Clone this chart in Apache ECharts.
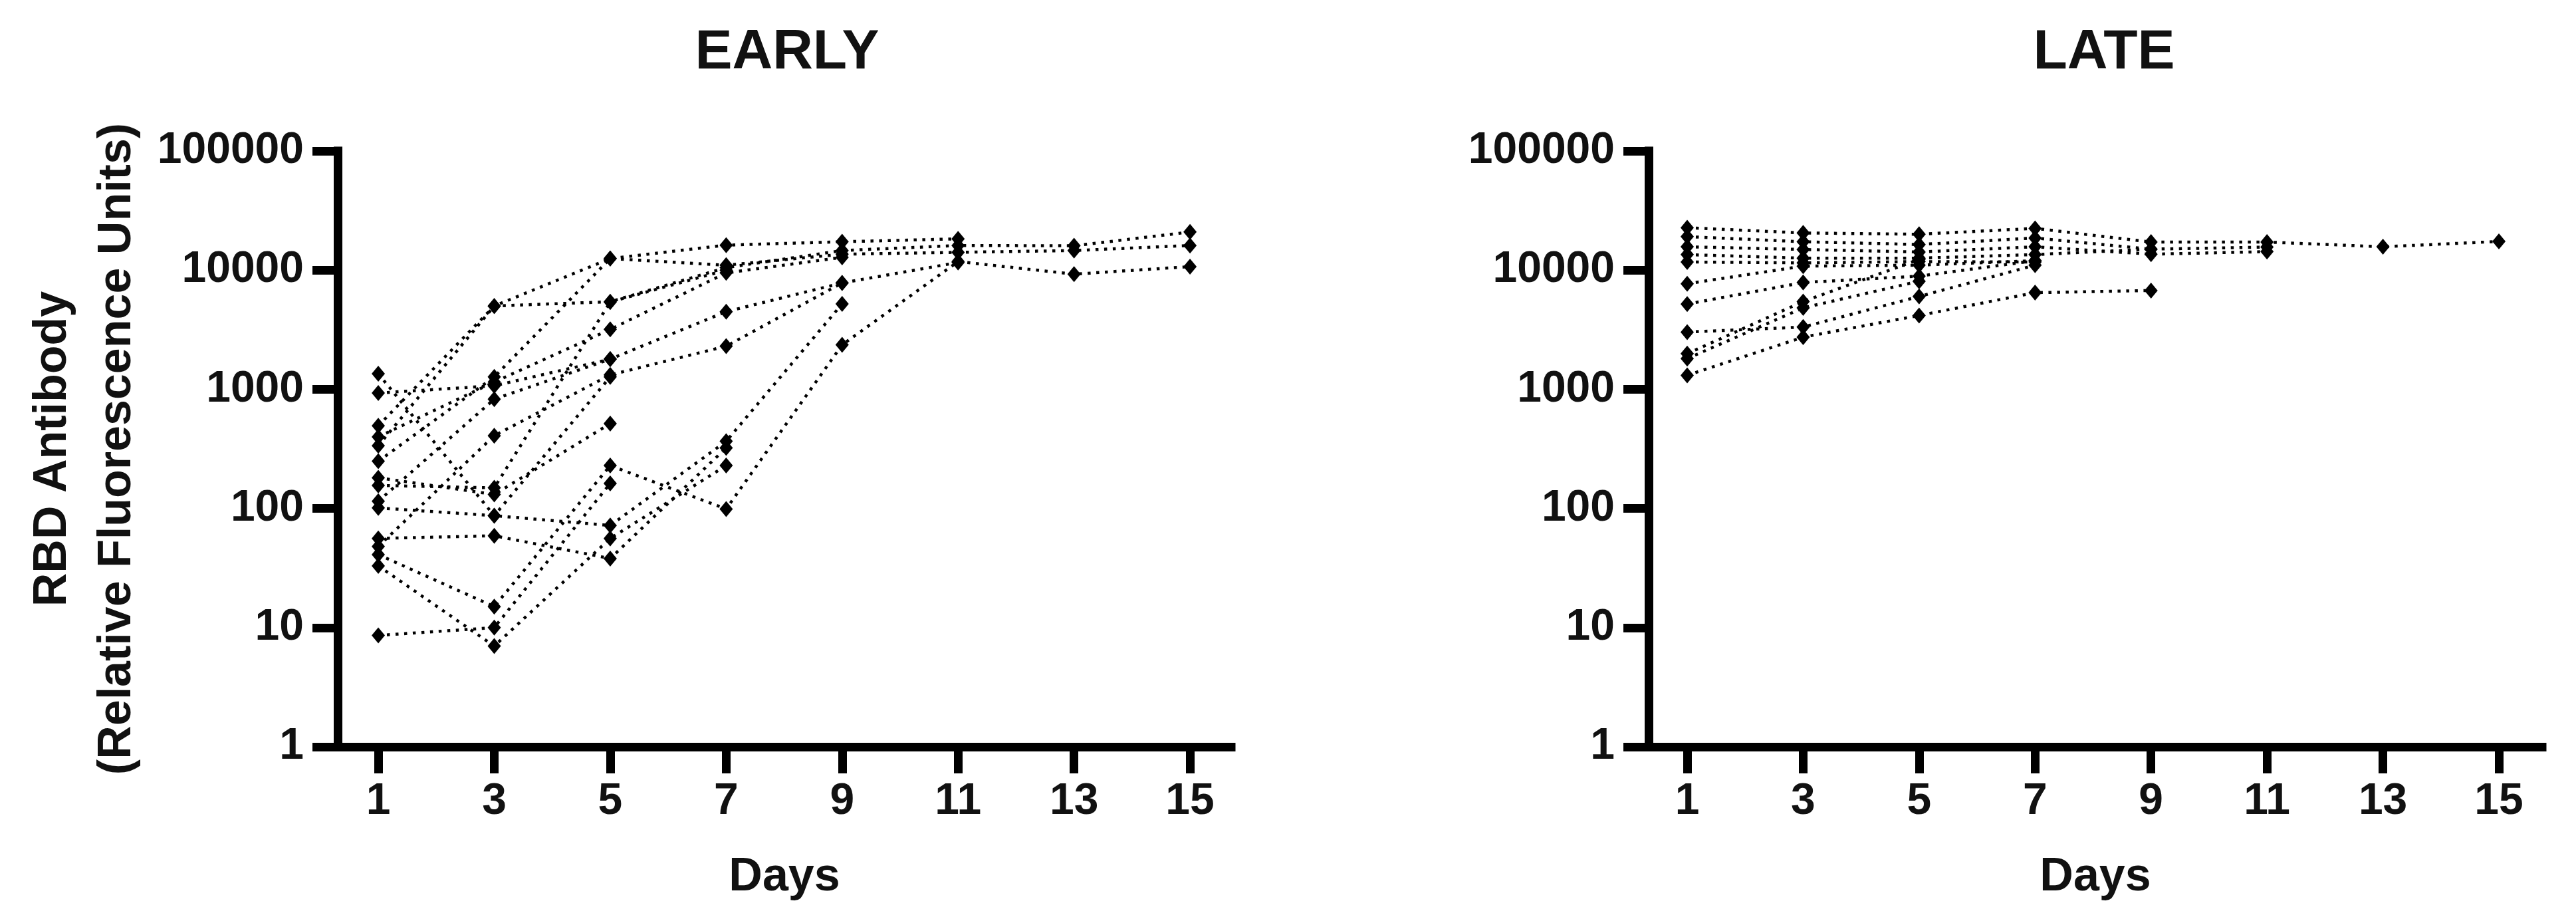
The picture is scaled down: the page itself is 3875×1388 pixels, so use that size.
<!DOCTYPE html>
<html>
<head>
<meta charset="utf-8">
<title>RBD Antibody - Early / Late</title>
<script src="https://cdn.jsdelivr.net/npm/echarts@6/dist/echarts.min.js"></script>
<style>
  html, body { margin: 0; padding: 0; background: #fff; }
  #chart { width: 3875px; height: 1388px; }
</style>
</head>
<body>
<div id="chart"></div>
<script>
// sampling days (x) and tick labels
const days = [1, 3, 5, 7, 9, 11, 13, 15]
const dayTicks = [1, 3, 5, 7, 9, 11, 13, 15]
const yTicks = [1, 10, 100, 1000, 10000, 100000]

// EARLY patients, one array per patient (values on days 1,3,5,...)
const early01 = [494, 5000, 12500, 16200, 17300, 18300]
const early02 = [336, 5000, 5430, 10500, 14600, 16100, 16000, 20900]
const early03 = [931, 1070, 1790, 4480, 7800]
const early04 = [249, 1270, 12500, 11000, 13600, 14100, 14600, 16100]
const early05 = [399, 1150, 3180, 9480, 12800]
const early06 = [48, 408, 1320, 2300, 7800, 11600]
const early07 = [1350, 87, 1270]
const early08 = [181, 131, 515]
const early09 = [156, 149, 5400, 10000]
const early10 = [115, 826, 1790]
const early11 = [101, 87, 72, 366, 5200]
const early12 = [56, 59, 38, 322]
const early13 = [41, 15, 229, 99, 2360, 11800, 9250, 10700]
const early14 = [33, 7, 56, 229]
const early15 = [8.6, 10, 162]

// LATE patients
const late01 = [22700, 20500, 20000, 22400, 17200, 17200, 15700, 17400]
const late02 = [19100, 17300, 16400, 18600, 15000, 15600]
const late03 = [15700, 14900, 14200, 15700, 13600, 14300]
const late04 = [13500, 12600, 12600, 13500, 15000]
const late05 = [11700, 11500, 11800, 11700]
const late06 = [7690, 10800, 11000, 12000]
const late07 = [5190, 7870, 8910, 12000]
const late08 = [3020, 3330, 6010, 11000]
const late09 = [1990, 5450, 12300]
const late10 = [1810, 4820, 8070]
const late11 = [1310, 2740, 4160, 6470, 6740]

const earlyList = [early01, early02, early03, early04, early05, early06, early07, early08,
  early09, early10, early11, early12, early13, early14, early15]
const lateList = [late01, late02, late03, late04, late05, late06, late07, late08,
  late09, late10, late11]

const font = "'Liberation Sans', Arial, Helvetica, sans-serif"
const ink = '#111'

function makeSeries(values, idx) {
  return {
    type: 'line',
    xAxisIndex: idx,
    yAxisIndex: idx,
    data: values.map((v, i) => [days[i], v]),
    symbol: 'diamond',
    symbolSize: [20, 24],
    itemStyle: { color: '#000' },
    lineStyle: { color: '#000', width: 4.5, type: [4.5, 8.5] },
    silent: true
  }
}

function makeXAxis(idx, min) {
  return {
    type: 'value',
    gridIndex: idx,
    min: min,
    max: min + 15.41,
    name: 'Days',
    nameLocation: 'middle',
    nameGap: 162,
    nameTextStyle: { fontFamily: font, fontSize: 70, fontWeight: 'bold', color: ink },
    axisLine: { show: true, onZero: false, lineStyle: { color: '#000', width: 13, cap: 'square' } },
    axisTick: { show: true, length: 40, customValues: dayTicks, lineStyle: { color: '#000', width: 13 } },
    axisLabel: { customValues: dayTicks, margin: 50, fontFamily: font, fontSize: 66, fontWeight: 'bold', color: ink },
    splitLine: { show: false }
  }
}

function makeYAxis(idx, withName) {
  const ax = {
    type: 'log',
    logBase: 10,
    gridIndex: idx,
    min: 1,
    max: 100000,
    axisLine: { show: true, onZero: false, lineStyle: { color: '#000', width: 13, cap: 'square' } },
    axisTick: { show: true, length: 38, lineStyle: { color: '#000', width: 13 } },
    axisLabel: {
      margin: 51,
      fontFamily: font,
      fontSize: 66,
      fontWeight: 'bold',
      color: ink,
      formatter: v => String(Math.round(v))
    },
    splitLine: { show: false }
  }
  if (withName) {
    ax.name = 'RBD Antibody\n(Relative Fluorescence Units)'
    ax.nameLocation = 'middle'
    ax.nameGap = 283
    ax.nameTextStyle = { fontFamily: font, fontSize: 70, fontWeight: 'bold', color: ink, lineHeight: 97 }
  }
  return ax
}

const option = {
  animation: false,
  backgroundColor: '#fff',
  graphic: [
    { type: 'text', x: 1184, y: 80, style: { text: 'EARLY', textAlign: 'center', textVerticalAlign: 'middle', fontFamily: font, fontSize: 84, fontWeight: 'bold', fill: ink } },
    { type: 'text', x: 3165, y: 80, style: { text: 'LATE', textAlign: 'center', textVerticalAlign: 'middle', fontFamily: font, fontSize: 84, fontWeight: 'bold', fill: ink } }
  ],
  grid: [
    { left: 508, top: 227, width: 1344, height: 896 },
    { left: 2480, top: 227, width: 1344, height: 896 }
  ],
  xAxis: [makeXAxis(0, 0.30), makeXAxis(1, 0.335)],
  yAxis: [makeYAxis(0, true), makeYAxis(1, false)],
  series: earlyList.map(v => makeSeries(v, 0)).concat(lateList.map(v => makeSeries(v, 1)))
}

const myChart = echarts.init(document.getElementById('chart'))
myChart.setOption(option)
</script>
</body>
</html>
